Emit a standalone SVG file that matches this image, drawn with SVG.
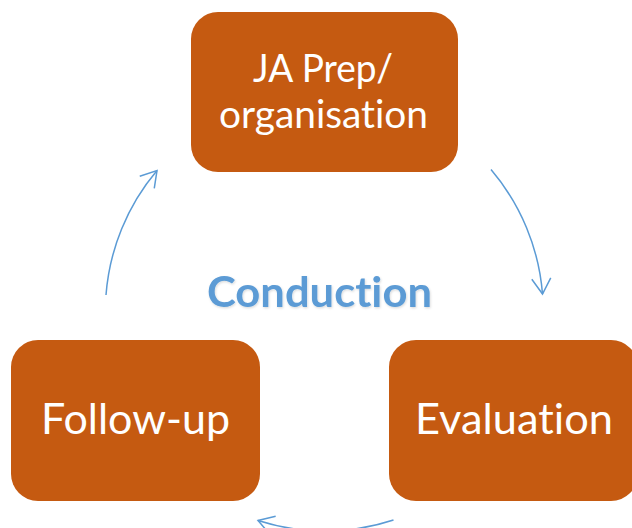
<svg xmlns="http://www.w3.org/2000/svg" width="632" height="528" viewBox="0 0 632 528">
  <style>
    .box { fill: #C55A11; }
    .label, .center { font-family: Lato, "Open Sans", "Liberation Sans", sans-serif; text-anchor: middle; font-variant-ligatures: none; font-feature-settings: "liga" 0, "dlig" 0; }
    .label { fill: #FFFFFF; }
    .center { font-weight: bold; fill: #5B9BD5; }
    .flow { fill: none; stroke: #5B9BD5; stroke-width: 1.5; }
  </style>
  <defs>
    <marker id="open-arrow" markerUnits="userSpaceOnUse" markerWidth="24" markerHeight="24" viewBox="-20 -12 24 24" refX="0" refY="0" orient="auto">
      <path d="M -15.5 -9.5 L 0 0 L -15.5 9.5" fill="none" stroke="#5B9BD5" stroke-width="1.5"/>
    </marker>
    <filter id="soft-shadow" x="-10%" y="-20%" width="120%" height="150%">
      <feDropShadow dx="0.8" dy="1.2" stdDeviation="1" flood-color="#000000" flood-opacity="0.15"/>
    </filter>
  </defs>

  <rect width="632" height="528" fill="#FFFFFF"/>

  <!-- cycle connectors: arcs of one circle centred on the middle label -->
  <g id="connectors">
    <path class="flow" d="M 106 295 A 219 219 0 0 1 157 170.5" marker-end="url(#open-arrow)"/>
    <path class="flow" d="M 491 169.5 A 219 219 0 0 1 542.5 294" marker-end="url(#open-arrow)"/>
    <path class="flow" d="M 393.5 520 A 219 219 0 0 1 258 520.5" marker-end="url(#open-arrow)"/>
  </g>

  <g id="node-prep">
    <rect class="box" x="191" y="12" width="267" height="160" rx="27" ry="27"/>
    <text class="label" font-size="38" x="323" y="82" textLength="140" lengthAdjust="spacingAndGlyphs">JA Prep/</text>
    <text class="label" font-size="38" x="323.5" y="128" textLength="209" lengthAdjust="spacingAndGlyphs">organisation</text>
  </g>

  <g id="node-evaluation">
    <rect class="box" x="389" y="340" width="249" height="161" rx="27" ry="27"/>
    <text class="label" font-size="43" x="514" y="434" textLength="198" lengthAdjust="spacingAndGlyphs">Evaluation</text>
  </g>

  <g id="node-followup">
    <rect class="box" x="11" y="340" width="249" height="161" rx="27" ry="27"/>
    <text class="label" font-size="43" x="135.5" y="434" textLength="189" lengthAdjust="spacingAndGlyphs">Follow-up</text>
  </g>

  <g id="node-conduction">
    <text class="center" font-size="42" x="319.5" y="307" textLength="225" lengthAdjust="spacingAndGlyphs" filter="url(#soft-shadow)">Conduction</text>
  </g>
</svg>
